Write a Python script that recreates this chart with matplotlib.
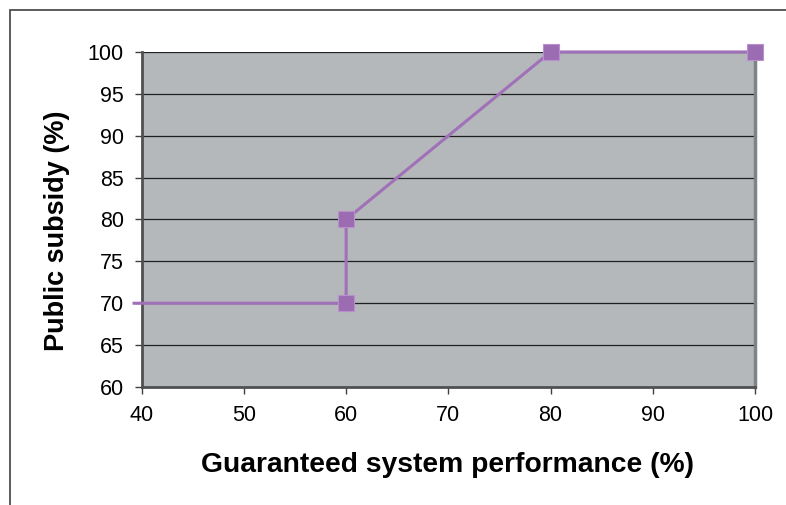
import matplotlib
matplotlib.use('Agg')
import matplotlib.pyplot as plt
from matplotlib.patches import Rectangle

plt.rcParams['font.family'] = ['Liberation Sans', 'DejaVu Sans']

# guaranteed performance vs subsidy
perf = [39.25, 60, 60, 80, 100]
subsidy = [70, 70, 80, 100, 100]
xticks = [40, 50, 60, 70, 80, 90, 100]
yticks = [60, 65, 70, 75, 80, 85, 90, 95, 100]

fig = plt.figure(figsize=(7.86, 5.05), dpi=100)
fig.patches.append(Rectangle((10/786, -0.1), 1.2, 1 - 10/505 + 0.1, transform=fig.transFigure,
                             fill=False, edgecolor='#404040', linewidth=1.2))

ax = fig.add_axes([0.1803, 0.2337, 0.7803, 0.6634])
ax.set_facecolor('#b4b8ba')
ax.set_xlim(40, 100)
ax.set_ylim(60, 100)
ax.set_xticks(xticks)
ax.set_yticks(yticks)
ax.tick_params(labelsize=15.5, length=5, width=1, color='#404040', pad=8)
for y in yticks[1:]:
    ax.axhline(y, color='#202020', linewidth=0.9, zorder=1)

for s in ['left', 'bottom']:
    ax.spines[s].set_color('#505050')
    ax.spines[s].set_linewidth(2)
ax.spines['right'].set_color('#7f8384')
ax.spines['right'].set_linewidth(2.5)
ax.spines['top'].set_visible(False)

ax.plot(perf, subsidy, color='#a070b8', linewidth=2.2, clip_on=False, zorder=3)
ax.plot(perf[1:], subsidy[1:], linestyle='none', marker='s', markersize=11.5,
        markerfacecolor='#9b6cb1', markeredgecolor='#b890cc', markeredgewidth=0.8,
        clip_on=False, zorder=4)

ax.set_xlabel('Guaranteed system performance (%)', fontsize=20.3, fontweight='bold')
ax.set_ylabel('Public subsidy (%)', fontsize=19.5, fontweight='bold')
ax.xaxis.set_label_coords(0.498, -0.233)
ax.xaxis.label.set_verticalalignment('center')
ax.yaxis.set_label_coords(-0.138, 0.466)
ax.yaxis.label.set_verticalalignment('center')

fig.savefig('out.png', dpi=100)
